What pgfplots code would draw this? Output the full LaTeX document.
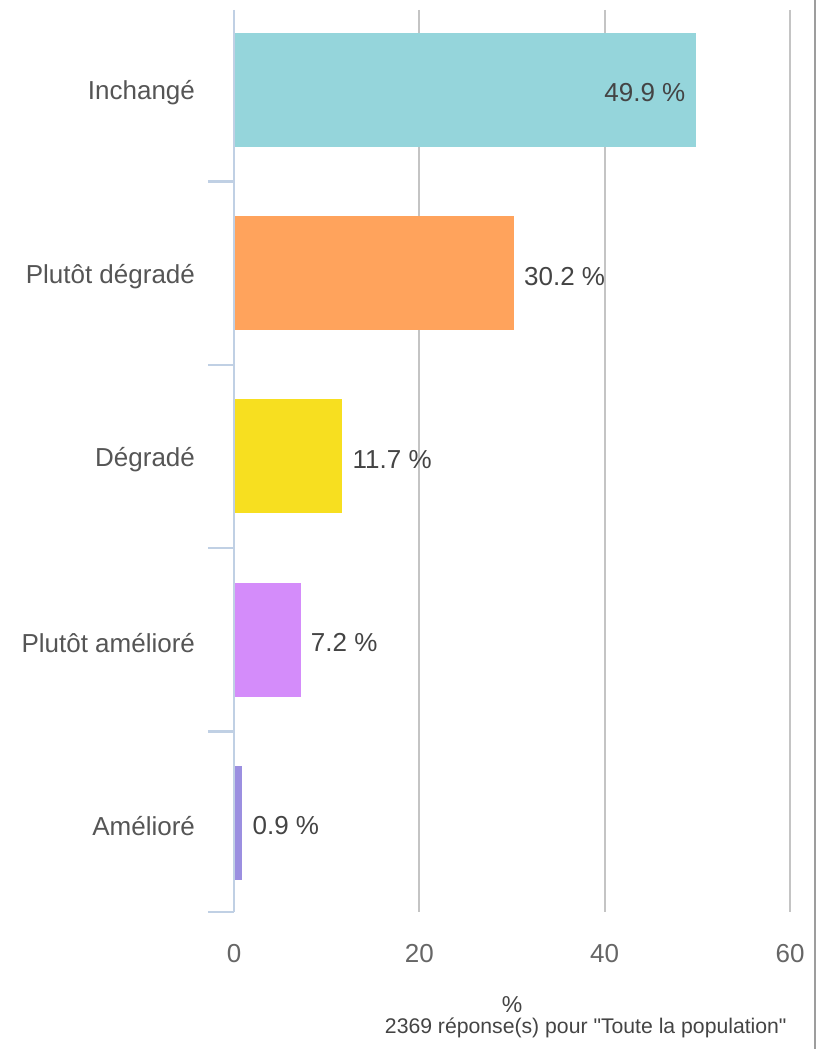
\documentclass[border=0pt]{standalone}
\usepackage{fontspec}
\setmainfont{Liberation Sans}
\newfontfamily\plainfont{Liberation Sans}[Ligatures=TeXOff]
\usepackage{pgfplots}
\pgfplotsset{compat=1.18}
\usetikzlibrary{calc}
\definecolor{cInch}{HTML}{95D5DB}
\definecolor{cPdeg}{HTML}{FFA35C}
\definecolor{cDeg}{HTML}{F7DF20}
\definecolor{cPam}{HTML}{D48CFA}
\definecolor{cAm}{HTML}{9B8FE0}
\definecolor{axisblue}{HTML}{C0D0E4}
\definecolor{gridgray}{HTML}{C4C4C4}
\definecolor{labgray}{HTML}{555555}
\definecolor{valgray}{HTML}{444444}
\definecolor{tickgray}{HTML}{666666}
\begin{document}
\begin{tikzpicture}
\begin{axis}[
    name=ax,
    scale only axis,
    width=278pt, height=451pt,
    xbar, bar width=57pt,
    xmin=0, xmax=60,
    ymin=-0.4366, ymax=4.486,
    y dir=reverse,
    clip=false,
    axis line style={draw=none},
    xtick={20,40,60},
    extra x ticks={0},
    extra x tick style={grid=none},
    xmajorgrids,
    grid style={color=gridgray, line width=1pt},
    major tick length=0pt,
    ytick={0,1,2,3,4},
    yticklabels={Inchangé, Plutôt dégradé, Dégradé, Plutôt amélioré, Amélioré},
    minor ytick={0.5,1.5,2.5,3.5,4.486},
    minor tick length=13pt,
    tick align=outside,
    ytick pos=left, xtick pos=bottom,
    minor tick style={color=axisblue, line width=1.2pt},
    yticklabel style={font=\fontsize{13}{15}\selectfont, text=labgray, xshift=-16pt, yshift=-1.5pt},
    xticklabel style={font=\fontsize{13}{15}\selectfont, text=tickgray, yshift=-12.5pt},
    /pgf/number format/assume math mode=true,
    xlabel={\%},
    xlabel style={font=\fontsize{11.5}{13}\selectfont, text=valgray,
                  at={(axis description cs:0.5,0)}, anchor=center, yshift=-46.5pt},
    point meta=explicit symbolic,
    nodes near coords={\pgfplotspointmeta~\%},
    every node near coord/.append style={font=\fontsize{13}{15}\selectfont, text=valgray, yshift=-1.5pt},
]
\addplot[fill=cInch, draw=none, bar shift=0pt,
  every node near coord/.append style={anchor=east, xshift=-2pt}]
  coordinates {(49.9,0) [49.9]};
\addplot[fill=cPdeg, draw=none, bar shift=0pt,
  every node near coord/.append style={anchor=west, xshift=1.6pt}]
  coordinates {(30.2,1) [30.2]};
\addplot[fill=cDeg, draw=none, bar shift=0pt,
  every node near coord/.append style={anchor=west, xshift=1.6pt}]
  coordinates {(11.7,2) [11.7]};
\addplot[fill=cPam, draw=none, bar shift=0pt,
  every node near coord/.append style={anchor=west, xshift=1.6pt}]
  coordinates {(7.2,3) [7.2]};
\addplot[fill=cAm, draw=none, bar shift=0pt,
  every node near coord/.append style={anchor=west, xshift=1.6pt}]
  coordinates {(0.9,4) [0.9]};
\draw[axisblue, line width=1.4pt] (axis cs:0,-0.4366) -- (axis cs:0,4.486);
\end{axis}
\node[anchor=base east, inner sep=0pt, font=\plainfont\fontsize{10.6}{12}\selectfont, text=valgray]
  at ($(ax.south east)+(-1.5pt,-60.5pt)$) {2369 réponse(s) pour "Toute la population"};
\draw[gridgray!80!black, line width=1pt]
  ($(ax.north east)+(12.5pt,5pt)$) -- ($(ax.south east)+(12.5pt,-68.5pt)$);
\pgfresetboundingbox
\useasboundingbox ($(ax.south west)+(-117pt,-68.5pt)$) rectangle ($(ax.north east)+(14.5pt,5pt)$);
\end{tikzpicture}
\end{document}
